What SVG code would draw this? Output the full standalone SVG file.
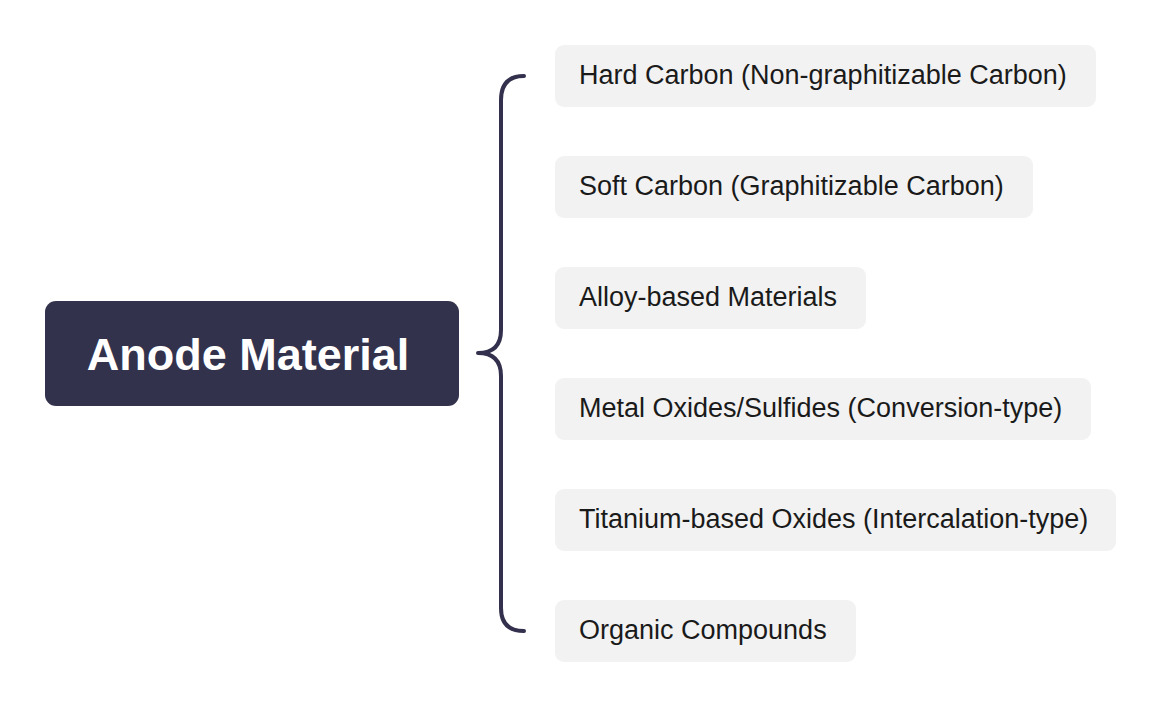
<svg xmlns="http://www.w3.org/2000/svg" width="1163" height="708" viewBox="0 0 1163 708">
<style>
.child rect{fill:#f2f2f2}
.child text{font-family:"Liberation Sans",Arial,sans-serif;font-size:27px;fill:#1a1a1a}
.root text{font-family:"Liberation Sans",Arial,sans-serif;font-size:45px;font-weight:bold;fill:#ffffff}
.brace{fill:none;stroke:#32304c;stroke-width:4;stroke-linecap:round;stroke-linejoin:round}
</style>
<rect width="1163" height="708" fill="#ffffff"/>
<g id="connectors">
<path class="brace" d="M524,76 Q501,76 501,100 L501,330 Q501,353 478,353 Q501,353 501,376 L501,608 Q501,631 524,631"/>
</g>
<g id="root" class="root">
<rect x="45" y="301" width="414" height="105" rx="11" fill="#33324d"/>
<text x="248" y="370" text-anchor="middle">Anode Material</text>
</g>
<g id="n1" class="child"><rect x="555" y="45" width="541" height="62" rx="9"/><text x="579" y="84">Hard Carbon (Non-graphitizable Carbon)</text></g>
<g id="n2" class="child"><rect x="555" y="156" width="478" height="62" rx="9"/><text x="579" y="195">Soft Carbon (Graphitizable Carbon)</text></g>
<g id="n3" class="child"><rect x="555" y="267" width="311" height="62" rx="9"/><text x="579" y="306">Alloy-based Materials</text></g>
<g id="n4" class="child"><rect x="555" y="378" width="536" height="62" rx="9"/><text x="579" y="417">Metal Oxides/Sulfides (Conversion-type)</text></g>
<g id="n5" class="child"><rect x="555" y="489" width="561" height="62" rx="9"/><text x="579" y="528">Titanium-based Oxides (Intercalation-type)</text></g>
<g id="n6" class="child"><rect x="555" y="600" width="301" height="62" rx="9"/><text x="579" y="639">Organic Compounds</text></g>
</svg>
